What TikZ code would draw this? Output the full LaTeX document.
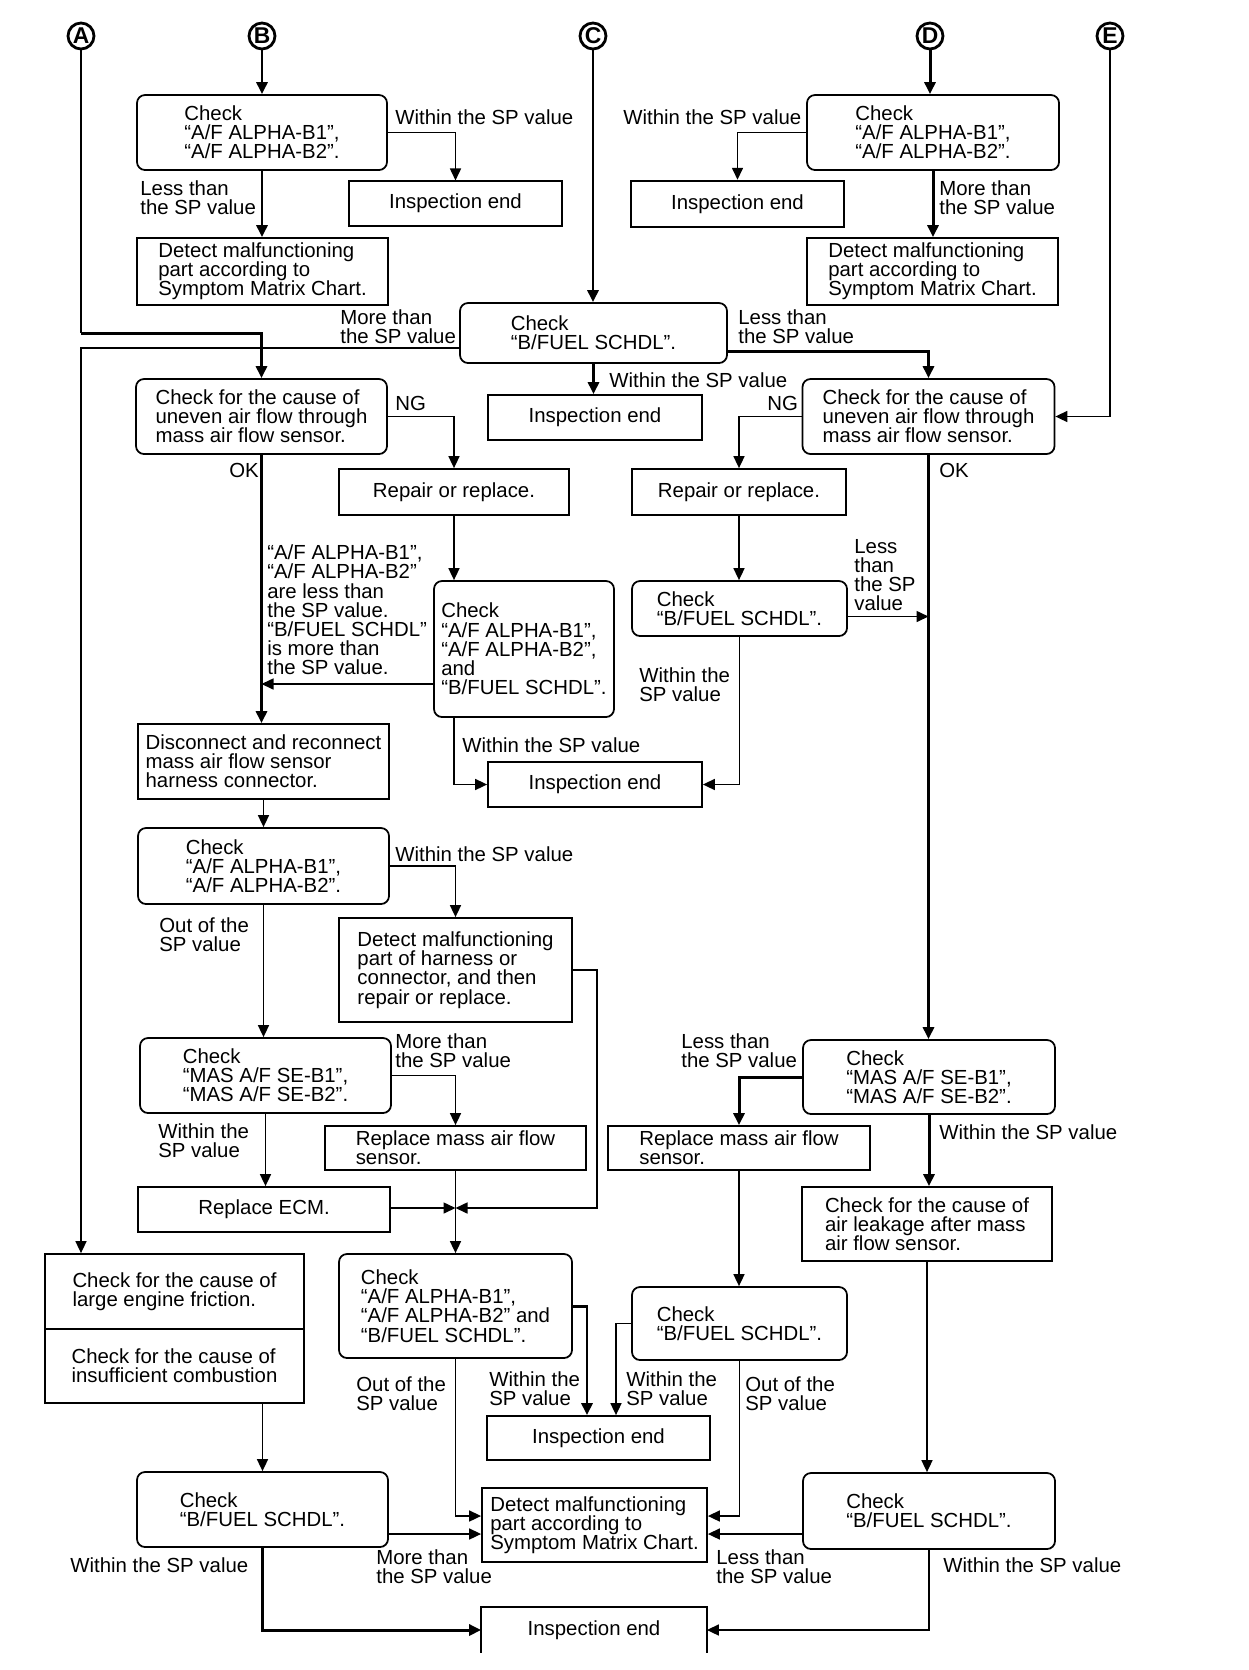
\documentclass[tikz,border=0pt]{standalone}
\usepackage{fontspec}
\setmainfont{Liberation Sans}
\usepackage{tikz}
\usetikzlibrary{arrows.meta}
\newcommand{\flowfont}{\fontsize{11.6}{10.9}\selectfont}
\tikzset{
  chkbox/.style 2 args={
    draw, rounded corners=1.6mm, line width=1pt,
    minimum width=#1*0.2mm, minimum height=#2*0.2mm,
    align=left, font=\flowfont, inner sep=0pt
  },
  endbox/.style 2 args={
    draw, line width=1pt,
    minimum width=#1*0.2mm, minimum height=#2*0.2mm,
    align=left, font=\flowfont, inner sep=0pt
  },
  letter/.style={
    circle, draw, line width=1.6pt, minimum size=5.2mm,
    inner sep=0pt, font=\bfseries\fontsize{13}{13}\selectfont
  },
  lbl/.style={anchor=west, align=left, inner sep=0pt, font=\flowfont},
  ln/.style={line width=0.9pt},
  lnb/.style={line width=1.7pt},
  arr/.style={-{Triangle[length=2.4mm, width=2.2mm]}}
}

\begin{document}
\begin{tikzpicture}[x=0.2mm, y=-0.2mm]
\useasboundingbox (0,0) rectangle (1248,1670);

% Entry letters
\node[letter] (cA) at (81,36) {A};
\node[letter] (cB) at (262,36) {B};
\node[letter] (cC) at (593,36) {C};
\node[letter] (cD) at (930,36) {D};
\node[letter] (cE) at (1110,36) {E};

% Top row
\node[chkbox={250}{75}] (B1) at (262,132.5) {Check\\“A/F ALPHA-B1”,\\“A/F ALPHA-B2”.};
\node[endbox={213}{45}, line width=0.6pt] (IE1) at (455.5,203.5) {Inspection end};
\node[endbox={251}{67}] (DM1) at (262.5,271.5) {Detect malfunctioning\\part according to\\Symptom Matrix Chart.};
\node[chkbox={252}{75}] (D1) at (933,132.5) {Check\\“A/F ALPHA-B1”,\\“A/F ALPHA-B2”.};
\node[endbox={213}{46}, line width=1.4pt] (IE2) at (737.5,204) {Inspection end};
\node[endbox={251}{67}] (DM2) at (932.5,271.5) {Detect malfunctioning\\part according to\\Symptom Matrix Chart.};
\node[chkbox={267}{60}] (CB) at (593.5,333) {Check\\“B/FUEL SCHDL”.};

% Uneven air flow checks
\node[chkbox={251}{75}] (U1) at (261.5,416.5) {Check for the cause of\\uneven air flow through\\mass air flow sensor.};
\node[endbox={214}{45}] (IE3) at (595,417.5) {Inspection end};
\node[chkbox={252}{75}] (U2) at (928.5,416.5) {Check for the cause of\\uneven air flow through\\mass air flow sensor.};
\node[endbox={230}{46}] (RR1) at (454,492) {Repair or replace.};
\node[endbox={214}{46}] (RR2) at (739,492) {Repair or replace.};
\node[chkbox={180}{136}] (CK3) at (524,649) {Check\\“A/F ALPHA-B1”,\\“A/F ALPHA-B2”,\\and\\“B/FUEL SCHDL”.};
\node[chkbox={215}{55}] (CK4) at (739.5,608.5) {Check\\“B/FUEL SCHDL”.};
\node[endbox={214}{45}] (IE4) at (595,784.5) {Inspection end};

% Connector and sensor checks
\node[endbox={251}{75}] (DR) at (263.5,761.5) {Disconnect and reconnect\\mass air flow sensor\\harness connector.};
\node[chkbox={251}{76}] (CK5) at (263.5,866) {Check\\“A/F ALPHA-B1”,\\“A/F ALPHA-B2”.};
\node[endbox={233}{104}] (DH) at (455.5,970) {Detect malfunctioning\\part of harness or\\connector, and then\\repair or replace.};
\node[chkbox={251}{75}] (CK6) at (265.5,1075.5) {Check\\“MAS A/F SE-B1”,\\“MAS A/F SE-B2”.};
\node[endbox={261}{44}] (RM1) at (455.5,1148) {Replace mass air flow\\sensor.};
\node[endbox={252}{45}] (RE) at (264,1209.5) {Replace ECM.};
\node[chkbox={252}{74}] (CK7) at (929,1077) {Check\\“MAS A/F SE-B1”,\\“MAS A/F SE-B2”.};
\node[endbox={262}{44}] (RM2) at (739,1148) {Replace mass air flow\\sensor.};
\node[endbox={250}{74}] (AL) at (927,1224) {Check for the cause of\\air leakage after mass\\air flow sensor.};
\coordinate (mrg) at (455.5,1208);

% Bottom rows
\node[endbox={259}{75}] (EFa) at (174.5,1291.5) {Check for the cause of\\large engine friction.};
\node[endbox={259}{74}] (EFb) at (174.5,1366) {Check for the cause of\\insufficient combustion};
\node[chkbox={233}{104}] (CK8) at (455.5,1306) {Check\\“A/F ALPHA-B1”,\\“A/F ALPHA-B2” and\\“B/FUEL SCHDL”.};
\node[chkbox={215}{73}] (CK9) at (739.5,1323.5) {Check\\“B/FUEL SCHDL”.};
\node[endbox={223}{44}] (IE5) at (598.5,1438) {Inspection end};
\node[endbox={225}{74}] (DM3) at (594.5,1525) {Detect malfunctioning\\part  according to\\Symptom Matrix Chart.};
\node[chkbox={251}{75}] (CK10) at (262.5,1509.5) {Check\\“B/FUEL SCHDL”.};
\node[chkbox={252}{76}] (CK11) at (929,1511) {Check\\“B/FUEL SCHDL”.};
\node[endbox={224}{44}, draw=none] (IE6) at (594,1630) {Inspection end};
\draw[line width=1pt] (IE6.south west) |- (IE6.north east) -- (IE6.south east);

% Branch labels
\node[lbl] (l1) at (395,117) {Within the SP value};
\node[lbl] (l2) at (140,198) {Less than\\the SP value};
\node[lbl] (l3) at (340,327) {More than\\the SP value};
\node[lbl] (l4) at (609,380) {Within the SP value};
\node[lbl] (l5) at (738,327) {Less than\\the SP value};
\node[lbl] (l6) at (623,117) {Within the SP value};
\node[lbl] (l7) at (939,198) {More than\\the SP value};
\node[lbl] (l8) at (395,403) {NG};
\node[lbl] (l9) at (229,470) {OK};
\node[lbl] (l10) at (267,610) {“A/F ALPHA-B1”,\\“A/F ALPHA-B2”\\are less than\\the SP value.\\“B/FUEL SCHDL”\\is more than\\the SP value.};
\node[lbl] (l11) at (462,745) {Within the SP value};
\node[lbl] (l12) at (767,403) {NG};
\node[lbl] (l13) at (939,470) {OK};
\node[lbl] (l14) at (854,575) {Less\\than\\the SP\\value};
\node[lbl] (l15) at (639,685) {Within the\\SP value};
\node[lbl] (l16) at (395,854) {Within the SP value};
\node[lbl] (l17) at (159,935) {Out of the\\SP value};
\node[lbl] (l18) at (395,1051) {More than\\the SP value};
\node[lbl] (l19) at (158,1141) {Within the\\SP value};
\node[lbl] (l20) at (681,1051) {Less than\\the SP value};
\node[lbl] (l21) at (939,1132) {Within the SP value};
\node[lbl] (l22) at (489,1389) {Within the\\SP value};
\node[lbl] (l23) at (626,1389) {Within the\\SP value};
\node[lbl] (l24) at (356,1394) {Out of the\\SP value};
\node[lbl] (l25) at (745,1394) {Out of the\\SP value};
\node[lbl] (l26) at (376,1567) {More than\\the SP value};
\node[lbl] (l27) at (716,1567) {Less than\\the SP value};
\node[lbl] (l28) at (70,1565) {Within the SP value};
\node[lbl] (l29) at (943,1565) {Within the SP value};

% Connectors from the top
\coordinate (aTurn) at (81,333);
\coordinate (fTurn) at (81,348);
\draw[lnb, arr] (cB) -- (cB |- B1.north);
\draw[ln, arr] (B1.east) -| (IE1.north);
\draw[lnb, arr] (B1.south) -- (B1.south |- DM1.north);
\draw[ln] (cA) -- (aTurn);
\draw[lnb, arr] (aTurn) -| (U1.north);
\draw[ln, arr] (CB.west |- fTurn) -- (fTurn) -- (fTurn |- EFa.north);
\draw[lnb, arr] (cC) -- (cC |- CB.north);
\draw[lnb, arr] (CB.south) -- (CB.south |- IE3.north);
\draw[lnb, arr] ([yshift=-3.6mm]CB.east) -| (U2.north);
\draw[ln, arr] (cE) |- (U2.east);
\draw[lnb, arr] (cD) -- (cD |- D1.north);
\draw[ln, arr] (D1.west) -| (IE2.north);
\draw[lnb, arr] (D1.south) -- (D1.south |- DM2.north);

% Uneven air flow branches
\draw[ln, arr] (U1.east) -| (RR1.north);
\draw[lnb, arr] (U1.south) -- (U1.south |- DR.north);
\draw[ln, arr] (RR1.south) -- (RR1.south |- CK3.north);
\draw[ln, arr] ([yshift=-7mm]CK3.west) -- ([yshift=-7mm]CK3.west -| U1.south);
\draw[ln, arr] (CK3.south -| RR1.south) |- (IE4.west);
\draw[ln, arr] (U2.west) -| (RR2.north);
\draw[lnb, arr] (U2.south) -- (U2.south |- CK7.north);
\draw[ln, arr] (RR2.south) -- (RR2.south |- CK4.north);
\draw[ln, arr] ([yshift=-1.6mm]CK4.east) -- ([yshift=-1.6mm]CK4.east -| U2.south);
\draw[ln, arr] (CK4.south) |- (IE4.east);

% Sensor branches
\draw[ln, arr] (DR.south) -- (DR.south |- CK5.north);
\draw[ln, arr] (CK5.east) -| (DH.north);
\draw[ln, arr] (CK5.south) -- (CK5.south |- CK6.north);
\draw[ln, arr] (DH.east) -| (597,1208) -- (mrg);
\draw[ln, arr] (CK6.east) -| (RM1.north);
\draw[ln, arr] (CK6.south) -- (CK6.south |- RE.north);
\draw[ln, arr] (RE.east |- mrg) -- (mrg);
\draw[ln, arr] (RM1.south) -- (RM1.south |- CK8.north);
\draw[lnb, arr] (CK7.west) -| (RM2.north);
\draw[lnb, arr] (CK7.south) -- (CK7.south |- AL.north);
\draw[ln, arr] (RM2.south) -- (RM2.south |- CK9.north);
\draw[ln, arr] (AL.south) -- (AL.south |- CK11.north);

% Bottom branches
\draw[ln, arr] (EFb.south -| CK10.north) -- (CK10.north);
\draw[lnb, arr] (CK8.east) -| ([xshift=-2.3mm]IE5.north);
\draw[ln, arr] (CK9.west) -| ([xshift=3.5mm]IE5.north);
\draw[ln, arr] (CK8.south) |- ([yshift=1.8mm]DM3.west);
\draw[ln, arr] (CK9.south) |- ([yshift=1.8mm]DM3.east);
\draw[ln, arr] ([yshift=-1.8mm]DM3.west -| CK10.east) -- ([yshift=-1.8mm]DM3.west);
\draw[ln, arr] ([yshift=-1.8mm]DM3.east -| CK11.west) -- ([yshift=-1.8mm]DM3.east);
\draw[lnb, arr] (CK10.south) |- (IE6.west);
\draw[ln, arr] (CK11.south) |- (IE6.east);

\end{tikzpicture}
\end{document}
